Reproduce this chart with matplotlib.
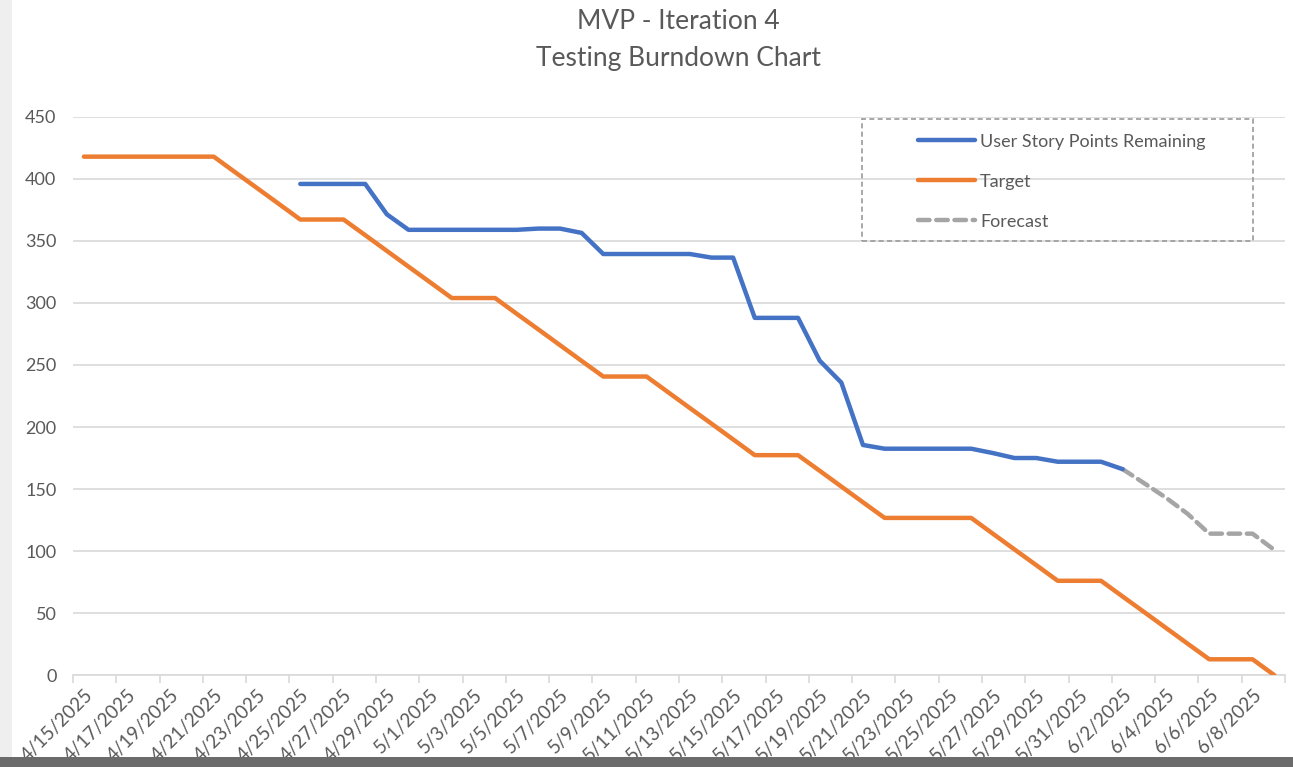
import matplotlib
matplotlib.use("Agg")
import matplotlib.pyplot as plt
from matplotlib.patches import Rectangle
import numpy as np

plt.rcParams['font.family'] = ['Lato', 'DejaVu Sans']

# one category per day, 4/15/2025 .. 6/9/2025
n_days = 56
tick_labels = ['4/15/2025', '4/17/2025', '4/19/2025', '4/21/2025', '4/23/2025',
               '4/25/2025', '4/27/2025', '4/29/2025', '5/1/2025', '5/3/2025',
               '5/5/2025', '5/7/2025', '5/9/2025', '5/11/2025', '5/13/2025',
               '5/15/2025', '5/17/2025', '5/19/2025', '5/21/2025', '5/23/2025',
               '5/25/2025', '5/27/2025', '5/29/2025', '5/31/2025', '6/2/2025',
               '6/4/2025', '6/6/2025', '6/8/2025']

nan = np.nan
remaining = [nan, nan, nan, nan, nan, nan, nan, nan, nan, nan,
             396, 396, 396, 396, 371.5, 359, 359, 359, 359, 359,
             359, 360, 360, 356.5, 339.5, 339.5, 339.5, 339.5, 339.5, 336.6,
             336.6, 288, 288, 288, 253.5, 235.8, 185.5, 182.5, 182.5, 182.5,
             182.5, 182.5, 179, 175, 175, 172, 172, 172, 166, nan,
             nan, nan, nan, nan, nan, nan]

target = [418, 418, 418, 418, 418, 418, 418, 405.3, 392.7, 380,
          367.3, 367.3, 367.3, 354.7, 342, 329.3, 316.7, 304, 304, 304,
          291.3, 278.7, 266, 253.3, 240.7, 240.7, 240.7, 228, 215.3, 202.7,
          190, 177.3, 177.3, 177.3, 164.7, 152, 139.3, 126.7, 126.7, 126.7,
          126.7, 126.7, 114, 101.3, 88.7, 76, 76, 76, 63.3, 50.7,
          38, 25.3, 12.7, 12.7, 12.7, 0]

forecast = [nan] * 48 + [166, 154.6, 143, 130, 114, 114, 114, 101]

x = np.arange(n_days)

fig = plt.figure(figsize=(12.93, 7.67), dpi=100)
ax = fig.add_axes([0.0565, 0.1199, 0.9373, 0.7276])

ax.plot(x, target, color='#ED7D31', lw=3.2, solid_joinstyle='round', solid_capstyle='round', label='Target', zorder=3)
ax.plot(x, remaining, color='#4472C4', lw=3.2, solid_joinstyle='round', solid_capstyle='round',
        label='User Story Points Remaining', zorder=4)
ax.plot(x, forecast, color='#A5A5A5', lw=3.2, ls=(0, (2.6, 1.5)), dash_capstyle='round',
        label='Forecast', zorder=3)

ax.set_xlim(-0.5, n_days - 0.5)
ax.set_ylim(0, 450)
ax.set_yticks(range(0, 451, 50))
ax.grid(axis='y', color='#d9d9d9', lw=1.2)
ax.set_axisbelow(True)
for s in ['left', 'right', 'top']:
    ax.spines[s].set_visible(False)
ax.spines['bottom'].set_color('#d9d9d9')
ax.spines['bottom'].set_linewidth(1.2)

ax.set_xticks(x[::2])
ax.set_xticklabels(tick_labels, rotation=45, ha='right', va='top', rotation_mode='anchor')
ax.set_xticks(np.arange(-0.5, n_days, 2), minor=True)
ax.tick_params(axis='x', which='major', length=0, pad=8, labelsize=13.5, labelcolor='#595959')
ax.tick_params(axis='x', which='minor', length=6, color='#d9d9d9', width=1.2)
ax.tick_params(axis='y', length=0, pad=12, labelsize=13, labelcolor='#595959')

fig.text(0.525, 0.972, 'MVP - Iteration 4', ha='center', va='center', fontsize=19, color='#595959')
fig.text(0.525, 0.924, 'Testing Burndown Chart', ha='center', va='center', fontsize=19, color='#595959')

# legend: dashed box with entries inside
ax.add_patch(Rectangle((0.651, 0.778), 0.3226, 0.2186, transform=ax.transAxes, fill=False,
                       ec='#9a9a9a', lw=1.2, ls=(0, (3, 2)), zorder=5, clip_on=False))
handles, labels = ax.get_legend_handles_labels()
order = [1, 0, 2]
leg = ax.legend([handles[i] for i in order], [labels[i] for i in order],
                loc='upper left', bbox_to_anchor=(0.691, 0.983), frameon=False,
                fontsize=13, handlelength=3.2, handletextpad=0.25, labelspacing=1.33,
                borderaxespad=0)
for t in leg.get_texts():
    t.set_color('#595959')

# screenshot frame bits
fig.patches.append(Rectangle((0, 0), 1, 0.013, transform=fig.transFigure, fc='#6b6b6b', ec='none'))
fig.patches.append(Rectangle((0, 0.013), 0.009, 0.987, transform=fig.transFigure, fc='#efefef', ec='none'))

fig.savefig('out.png', dpi=100)
